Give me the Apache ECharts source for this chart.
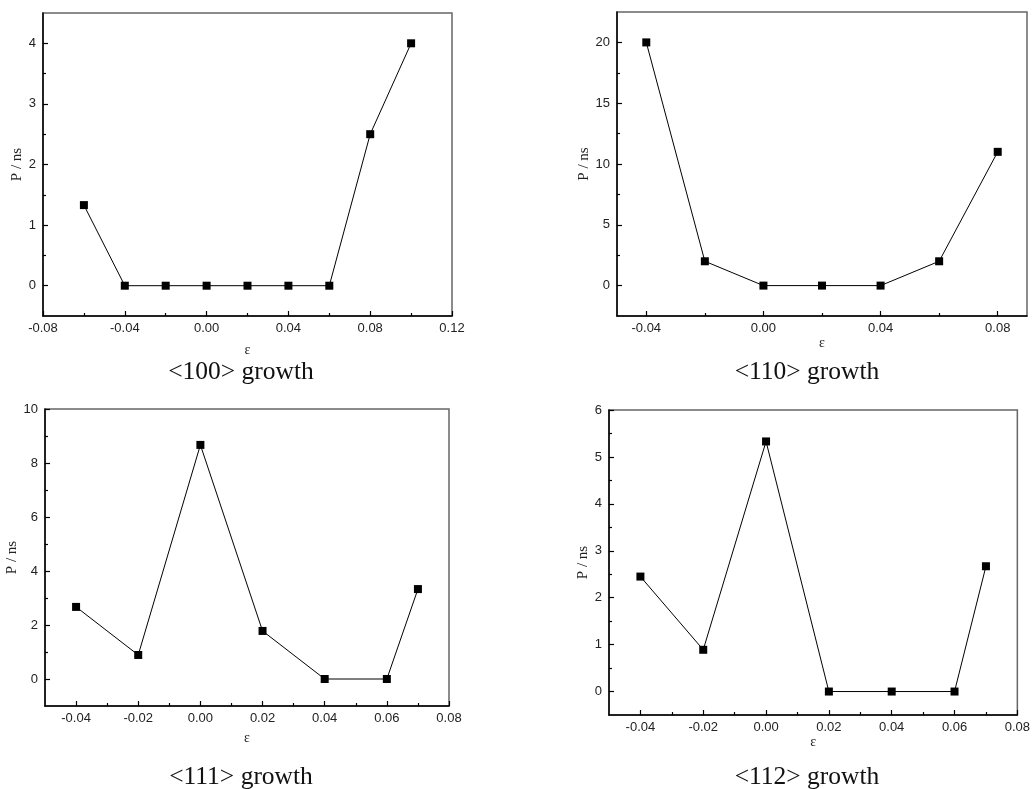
<!DOCTYPE html>
<html>
<head>
<meta charset="utf-8">
<script src="https://cdn.jsdelivr.net/npm/echarts@6/dist/echarts.min.js"></script>
<style>
  html, body { margin: 0; padding: 0; background: #fff; }
  #chart { width: 1033px; height: 789px; }
</style>
</head>
<body>
<div id="chart"></div>
<script>
// <100> growth
const strain100 = [-0.06, -0.04, -0.02, 0, 0.02, 0.04, 0.06, 0.08, 0.10];
const period100 = [1.33, 0, 0, 0, 0, 0, 0, 2.5, 4];
const xMajor100 = [-0.08, -0.04, 0, 0.04, 0.08, 0.12];
const xMinor100 = [-0.06, -0.02, 0.02, 0.06, 0.10];
const yMajor100 = [0, 1, 2, 3, 4];
const yMinor100 = [0.5, 1.5, 2.5, 3.5];

// <110> growth
const strain110 = [-0.04, -0.02, 0, 0.02, 0.04, 0.06, 0.08];
const period110 = [20, 2, 0, 0, 0, 2, 11];
const xMajor110 = [-0.04, 0, 0.04, 0.08];
const xMinor110 = [-0.02, 0.02, 0.06];
const yMajor110 = [0, 5, 10, 15, 20];
const yMinor110 = [2.5, 7.5, 12.5, 17.5];

// <111> growth
const strain111 = [-0.04, -0.02, 0, 0.02, 0.04, 0.06, 0.07];
const period111 = [2.67, 0.89, 8.67, 1.78, 0, 0, 3.33];
const xMajor111 = [-0.04, -0.02, 0, 0.02, 0.04, 0.06, 0.08];
const xMinor111 = [-0.03, -0.01, 0.01, 0.03, 0.05, 0.07];
const yMajor111 = [0, 2, 4, 6, 8, 10];
const yMinor111 = [1, 3, 5, 7, 9];

// <112> growth
const strain112 = [-0.04, -0.02, 0, 0.02, 0.04, 0.06, 0.07];
const period112 = [2.45, 0.89, 5.33, 0, 0, 0, 2.67];
const xMajor112 = [-0.04, -0.02, 0, 0.02, 0.04, 0.06, 0.08];
const xMinor112 = [-0.03, -0.01, 0.01, 0.03, 0.05, 0.07];
const yMajor112 = [0, 1, 2, 3, 4, 5, 6];
const yMinor112 = [0.5, 1.5, 2.5, 3.5, 4.5, 5.5];

const captions = ['<100> growth', '<110> growth', '<111> growth', '<112> growth'];

const panels = [
  { x: strain100, y: period100, xMaj: xMajor100, xMin: xMinor100, yMaj: yMajor100, yMin: yMinor100,
    xRange: [-0.08, 0.12], yRange: [-0.5, 4.5],
    grid: { left: 43, top: 13, width: 409, height: 303 }, yGap: 17, xGap: 27, cap: [241, 372] },
  { x: strain110, y: period110, xMaj: xMajor110, xMin: xMinor110, yMaj: yMajor110, yMin: yMinor110,
    xRange: [-0.05, 0.09], yRange: [-2.5, 22.5],
    grid: { left: 617, top: 12, width: 410, height: 304 }, yGap: 19, xGap: 20, cap: [807, 372] },
  { x: strain111, y: period111, xMaj: xMajor111, xMin: xMinor111, yMaj: yMajor111, yMin: yMinor111,
    xRange: [-0.05, 0.08], yRange: [-1, 10],
    grid: { left: 45, top: 409, width: 404, height: 297 }, yGap: 12, xGap: 25, cap: [241, 777] },
  { x: strain112, y: period112, xMaj: xMajor112, xMin: xMinor112, yMaj: yMajor112, yMin: yMinor112,
    xRange: [-0.05, 0.08], yRange: [-0.5, 6],
    grid: { left: 609, top: 410, width: 411, height: 305 }, yGap: 17, xGap: 18, cap: [807, 777] }
];

const labelFont = { fontFamily: 'Liberation Sans', fontSize: 13, color: '#222' };
const yNameFont = { fontFamily: 'Liberation Serif', fontSize: 15, color: '#222' };
const xNameFont = { fontFamily: 'Liberation Serif', fontSize: 14, color: '#222' };

const grids = [], xAxes = [], yAxes = [], series = [], graphics = [];

panels.forEach(function (p, i) {
  grids.push(Object.assign({ show: true, borderColor: '#666', borderWidth: 1.5, backgroundColor: 'transparent' }, p.grid));

  // main x axis: line, labels, major ticks
  xAxes.push({
    type: 'value', gridIndex: i, min: p.xRange[0], max: p.xRange[1],
    name: 'ε', nameLocation: 'middle', nameGap: p.xGap, nameTextStyle: xNameFont,
    axisLine: { show: true, onZero: false, lineStyle: { color: '#000', width: 1.5 } },
    axisTick: { show: true, inside: true, length: 5, customValues: p.xMaj, lineStyle: { color: '#000', width: 1.2 } },
    axisLabel: Object.assign({ margin: 6, customValues: p.xMaj, formatter: function (v) { return v.toFixed(2); } }, labelFont),
    splitLine: { show: false }
  });
  // overlay x axis: minor ticks only
  xAxes.push({
    type: 'value', gridIndex: i, min: p.xRange[0], max: p.xRange[1], position: 'bottom',
    axisLine: { show: false, onZero: false },
    axisTick: { show: true, inside: true, length: 3, customValues: p.xMin, lineStyle: { color: '#000', width: 1.2 } },
    axisLabel: { show: false },
    splitLine: { show: false }
  });

  yAxes.push({
    type: 'value', gridIndex: i, min: p.yRange[0], max: p.yRange[1],
    name: 'P / ns', nameLocation: 'middle', nameGap: p.yGap, nameTextStyle: yNameFont,
    axisLine: { show: true, onZero: false, lineStyle: { color: '#000', width: 1.5 } },
    axisTick: { show: true, inside: true, length: 5, customValues: p.yMaj, lineStyle: { color: '#000', width: 1.2 } },
    axisLabel: Object.assign({ margin: 7, customValues: p.yMaj }, labelFont),
    splitLine: { show: false }
  });
  yAxes.push({
    type: 'value', gridIndex: i, min: p.yRange[0], max: p.yRange[1], position: 'left',
    axisLine: { show: false, onZero: false },
    axisTick: { show: true, inside: true, length: 3, customValues: p.yMin, lineStyle: { color: '#000', width: 1.2 } },
    axisLabel: { show: false },
    splitLine: { show: false }
  });

  series.push({
    type: 'line', xAxisIndex: i * 2, yAxisIndex: i * 2,
    data: p.x.map(function (v, k) { return [v, p.y[k]]; }),
    symbol: 'rect', symbolSize: 8, showSymbol: true,
    lineStyle: { color: '#000', width: 1 },
    itemStyle: { color: '#000' },
    animation: false, silent: true
  });

  graphics.push({
    type: 'text', x: p.cap[0], y: p.cap[1],
    style: { text: captions[i], fontFamily: 'Liberation Serif', fontSize: 25.5, fill: '#111', align: 'center', verticalAlign: 'middle' }
  });
});

const chart = echarts.init(document.getElementById('chart'));
chart.setOption({
  backgroundColor: '#fff',
  animation: false,
  grid: grids,
  xAxis: xAxes,
  yAxis: yAxes,
  series: series,
  graphic: graphics
});
</script>
</body>
</html>
